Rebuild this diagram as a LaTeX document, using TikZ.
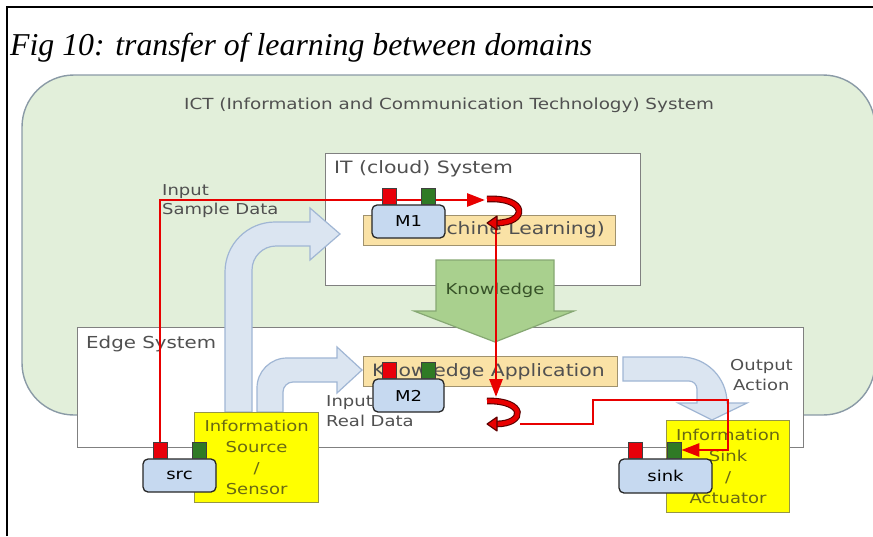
\documentclass[tikz,border=0pt]{standalone}
\usepackage{fontspec}
\setmainfont{Liberation Serif}
\newfontfamily\gothic[FakeStretch=1.2]{DejaVu Sans}
\usetikzlibrary{arrows.meta}
\pgfdeclarelayer{front}
\pgfsetlayers{main,front}
\definecolor{bggreen}{RGB}{226,239,218}
\definecolor{bgborder}{RGB}{138,154,166}
\definecolor{boxborder}{RGB}{128,128,128}
\definecolor{txtgray}{RGB}{80,80,80}
\definecolor{mlfill}{RGB}{250,226,166}
\definecolor{mlborder}{RGB}{160,146,110}
\definecolor{bluefill}{RGB}{219,229,241}
\definecolor{blueborder}{RGB}{160,182,212}
\definecolor{kfill}{RGB}{169,208,142}
\definecolor{kborder}{RGB}{134,168,115}
\definecolor{ktext}{RGB}{55,82,40}
\definecolor{yfill}{RGB}{255,255,0}
\definecolor{yborder}{RGB}{150,150,70}
\definecolor{ytext}{RGB}{105,105,20}
\definecolor{mblue}{RGB}{198,217,240}
\definecolor{lred}{RGB}{232,0,0}
\definecolor{dred}{RGB}{90,0,0}
\definecolor{portred}{RGB}{232,0,10}
\definecolor{portgreen}{RGB}{47,122,37}
\begin{document}
\begin{tikzpicture}[x=1pt,y=-1pt,
  lbl/.style={font=\gothic\fontsize{15}{18}\selectfont, text=txtgray, inner sep=0},
  sysbox/.style={draw=boxborder, line width=1.4pt, fill=white, anchor=north west, inner sep=0},
  mlbox/.style={draw=mlborder, line width=1.2pt, fill=mlfill, anchor=north west, inner sep=0},
  ybox/.style={draw=yborder, line width=1.2pt, fill=yfill, anchor=north west, inner sep=0,
    align=center, text=ytext, font=\gothic\fontsize{15}{21}\selectfont},
  bluearrow/.style={draw=blueborder, line width=1.2pt, fill=bluefill},
  mbox/.style={draw=black!85, line width=1.3pt, fill=mblue, rounded corners=5pt,
    minimum height=33pt, inner sep=0, font=\gothic\fontsize{15}{18}\selectfont},
  port/.style={draw=black!75, line width=0.8pt, minimum width=14pt, minimum height=16pt, inner sep=0},
  rport/.style={port, fill=portred},
  gport/.style={port, fill=portgreen},
  redline/.style={draw=lred, line width=2.8pt},
  redtip/.style={-{Triangle[length=18pt,width=13pt]}},
  circarrow/.style={draw=dred, double=lred, double distance=4.5pt, line width=1.1pt},
  circtip/.style={fill=lred, draw=dred, line width=1.1pt, line join=round}
]
\useasboundingbox (0,0) rectangle (873,536);
% frame
\draw[line width=2pt] (7,536) -- (7,7) -- (873,7);
\node[anchor=base west, inner sep=0, font=\itshape\fontsize{31.8}{36}\selectfont] (title) at (10,55) {Fig 10: transfer of learning between domains};
% ICT system
\draw[fill=bggreen, draw=bgborder, line width=1.4pt, rounded corners=52pt] (22,75) rectangle (875,415);
\node[lbl, anchor=base, font=\gothic\fontsize{15.3}{18}\selectfont] (ict) at (449,109) {ICT (Information and Communication Technology) System};
% IT cloud system
\node[sysbox, minimum width=315pt, minimum height=132pt] (it) at (325,153) {};
\node[lbl, anchor=base west, font=\gothic\fontsize{17}{20}\selectfont] (itlbl) at (334,173) {IT (cloud) System};
\node[mlbox, minimum width=252pt, minimum height=30pt] (ml) at (363,215) {};
\node[lbl, anchor=base east, font=\gothic\fontsize{17}{20}\selectfont] (mllbl) at (605,234) {(Machine Learning)};
% Edge system
\node[sysbox, minimum width=726pt, minimum height=120pt] (edge) at (77,327) {};
\node[lbl, anchor=base west, font=\gothic\fontsize{16.5}{20}\selectfont] (edgelbl) at (86,348) {Edge System};
\node[mlbox, minimum width=254pt, minimum height=30pt] (ka) at (363,356) {};
\node[lbl, anchor=base east, font=\gothic\fontsize{17}{20}\selectfont] (kalbl) at (605,376) {Knowledge Application};
% Knowledge arrow
\draw[fill=kfill, draw=kborder, line width=1.2pt] (436,260) -- (554,260) -- (554,311) -- (574,311) -- (495,342) -- (414,311) -- (436,311) -- cycle;
\node[lbl, anchor=base, text=ktext] (know) at (495,294) {Knowledge};
% blue arrows
\draw[bluearrow] (225,412) -- (225,272) .. controls (225,244.4) and (247.4,222) .. (275,222)
  -- (310,222) -- (310,208) -- (340,234) -- (310,260) -- (310,246) -- (276,246)
  .. controls (262.8,246) and (252,256.8) .. (252,270) -- (252,412) -- cycle;
\draw[bluearrow] (257,412) -- (257,388) .. controls (257,371.4) and (270.4,358) .. (287,358)
  -- (337,358) -- (337,347) -- (362,370) -- (337,393) -- (337,382) -- (293,382)
  .. controls (287.5,382) and (283,386.5) .. (283,392) -- (283,412) -- cycle;
\draw[bluearrow] (623,357) -- (681,357) .. controls (706.4,357) and (727,377.6) .. (727,403)
  -- (747,403) -- (712,420) -- (678,403) -- (697,403) -- (697,389)
  .. controls (697,384.6) and (693.4,381) .. (689,381) -- (623,381) -- cycle;
% labels
\node[lbl, anchor=base west] (in1a) at (162,195) {Input};
\node[lbl, anchor=base west] (in1b) at (162,214) {Sample Data};
\node[lbl, anchor=base west] (in2a) at (326,406) {Input};
\node[lbl, anchor=base west] (in2b) at (326,426) {Real Data};
\node[lbl, anchor=base west] (out1) at (730,370) {Output};
\node[lbl, anchor=base west] (out2) at (733,390) {Action};
% yellow boxes
\node[ybox, minimum width=124pt, minimum height=90pt] (source) at (194,412) {Information\\Source\\/\\Sensor};
\node[ybox, minimum width=123pt, minimum height=92pt] (sinkbox) at (666,420) {Information\\Sink\\/\\Actuator};
% modules and ports (front layer)
\begin{pgfonlayer}{front}
\node[mbox, minimum width=73pt] (m1) at (408.5,221.5) {M1};
\node[mbox, minimum width=71pt] (m2) at (408.5,395.5) {M2};
\node[mbox, minimum width=73pt] (src) at (179.5,475.5) {src};
\node[mbox, minimum width=93pt, minimum height=34pt] (sink) at (665.5,476) {sink};
\node[rport] (m1r) at (389,196) {};
\node[gport] (m1g) at (428,196) {};
\node[rport] (m2r) at (389,370) {};
\node[gport] (m2g) at (428.5,370) {};
\node[rport] (srcr) at (160,450) {};
\node[gport] (srcg) at (199,450) {};
\node[rport] (sinkr) at (635,450) {};
\node[gport] (sinkg) at (674,450) {};
\end{pgfonlayer}
% coordinates for connectors
\coordinate (c1) at (485,200);
\coordinate (v1) at (496,224);
\coordinate (v2) at (496,397);
\coordinate (c3) at (520,424);
\coordinate (c4) at (593,400);
\coordinate (c5) at (728,450);
% red lines
\draw[redline, redtip] (srcr.north) |- (c1);
\draw[redline, redtip] (v1) -- (v2);
\draw[redline, redtip] (c3) -| (c4) -| (c5) -- (sinkg.east);
% circular arrows
\draw[circarrow] (487,199) .. controls (528,197) and (528,223) .. (496,223);
\draw[circtip] (487,223) -- (497,216) -- (497,230) -- cycle;
\draw[circarrow] (487,401) .. controls (526,400) and (526,424) .. (496,424);
\draw[circtip] (487,424) -- (497,417) -- (497,431) -- cycle;
\end{tikzpicture}
\end{document}
